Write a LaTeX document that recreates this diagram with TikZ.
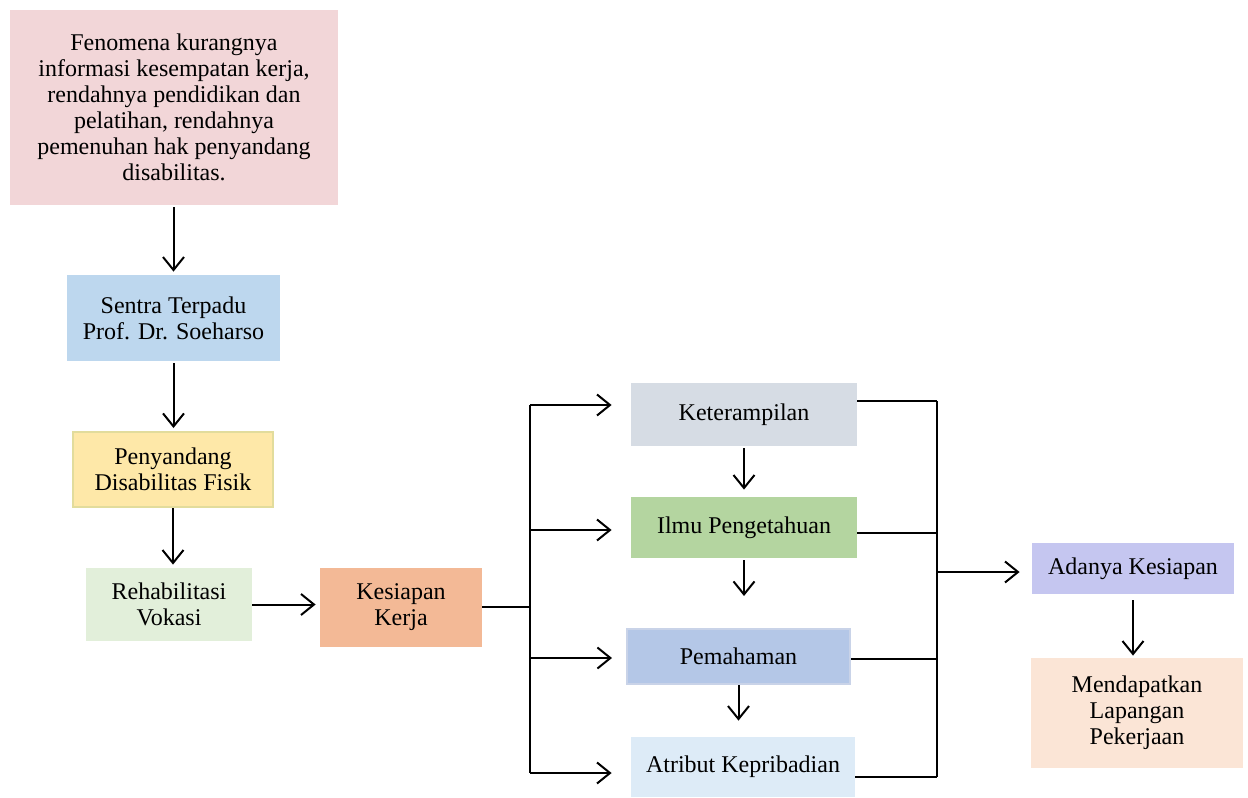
\documentclass[tikz,border=0pt]{standalone}
\usepackage{fontspec}
\setmainfont{Liberation Serif}
\usetikzlibrary{arrows.meta,positioning}

\definecolor{fenpink}{HTML}{F2D6D8}
\definecolor{sentrablue}{HTML}{BDD7EE}
\definecolor{penyyellow}{HTML}{FEE8A8}
\definecolor{penyborder}{HTML}{E2DC9C}
\definecolor{rehabgreen}{HTML}{E2EFDA}
\definecolor{kesorange}{HTML}{F3B996}
\definecolor{ketgray}{HTML}{D6DCE4}
\definecolor{ilmugreen}{HTML}{B4D5A0}
\definecolor{pemblue}{HTML}{B4C7E7}
\definecolor{pemborder}{HTML}{C9D3E8}
\definecolor{atrblue}{HTML}{DDEBF7}
\definecolor{adanyaviolet}{HTML}{C5C6F0}
\definecolor{mendpeach}{HTML}{FBE5D6}

\begin{document}
\begin{tikzpicture}[x=0.5pt,y=-0.5pt]
    \tikzstyle{box}=[rectangle,inner sep=2pt,align=center,font=\fontsize{12}{13}\selectfont]
    \tikzstyle{arr}=[line width=1pt,-{Straight Barb[length=6.5pt,width=10.5pt,line width=1pt]}]
    \tikzstyle{link}=[line width=1pt]
    \useasboundingbox (0,0) rectangle (1248,798);
    % left column
    \node[box,fill=fenpink,minimum width=164pt,minimum height=97.5pt] (fenomena) at (174,107.5)
      {Fenomena kurangnya\\informasi kesempatan kerja,\\rendahnya pendidikan dan\\pelatihan, rendahnya\\pemenuhan hak penyandang\\disabilitas.};
    \node[box,fill=sentrablue,minimum width=106.5pt,minimum height=43pt] (sentra) at (173.5,318)
      {Sentra Terpadu\\Prof. Dr. Soeharso};
    \node[box,fill=penyyellow,draw=penyborder,line width=1pt,minimum width=100pt,minimum height=37.5pt] (penyandang) at (173,469.5)
      {Penyandang\\Disabilitas Fisik};
    \node[box,fill=rehabgreen,minimum width=83pt,minimum height=36.5pt] (rehab) at (169,604.5)
      {Rehabilitasi\\Vokasi};
    \node[box,fill=kesorange,minimum width=81pt,minimum height=39.5pt] (kesiapan) at (401,607.5)
      {Kesiapan\\Kerja};
    % middle column
    \node[box,fill=ketgray,minimum width=113pt,minimum height=31.5pt] (keterampilan) at (744,414.5)
      {Keterampilan};
    \node[box,fill=ilmugreen,minimum width=113pt,minimum height=30.5pt] (ilmu) at (744,527.5)
      {Ilmu Pengetahuan};
    \node[box,fill=pemblue,draw=pemborder,line width=1pt,minimum width=111.5pt,minimum height=27.5pt] (pemahaman) at (738.5,656.5)
      {Pemahaman};
    \node[box,fill=atrblue,minimum width=112pt,minimum height=30pt] (atribut) at (743,767)
      {Atribut Kepribadian};
    % right column
    \node[box,fill=adanyaviolet,minimum width=101pt,minimum height=25.5pt] (adanya) at (1133,568.5)
      {Adanya Kesiapan};
    \node[box,fill=mendpeach,minimum width=106pt,minimum height=55pt] (mendapatkan) at (1137,713)
      {Mendapatkan\\Lapangan\\Pekerjaan};
    \coordinate (split) at (530,607);
    \coordinate (join) at (937,572);
    % arrows
    \draw[arr,shorten <=1pt,shorten >=1.5pt] (sentra.north |- fenomena.south) -- (sentra.north);
    \draw[arr,shorten <=1pt,shorten >=1.5pt] (sentra.south) -- (sentra.south |- penyandang.north);
    \draw[arr,shorten >=1.5pt] (penyandang.south) -- (penyandang.south |- rehab.north);
    \draw[arr,shorten >=2pt] (rehab.east) -- (rehab.east -| kesiapan.west);
    \draw[link] (kesiapan.east |- split) -- (split);
    \draw[link] (split |- 0,405) -- (split |- 0,773);
    \draw[arr,shorten >=9.5pt] (split |- 0,405) -- ([yshift=4.75pt]keterampilan.west);
    \draw[arr,shorten >=9.5pt] (split |- 0,530) -- ([yshift=-1.25pt]ilmu.west);
    \draw[arr,shorten >=7pt] (split |- 0,658) -- ([yshift=-0.75pt]pemahaman.west);
    \draw[arr,shorten >=9.5pt] (split |- 0,773) -- ([yshift=-3pt]atribut.west);
    \draw[arr,shorten <=1pt,shorten >=3.5pt] (keterampilan) -- (keterampilan |- ilmu.north);
    \draw[arr,shorten <=1pt,shorten >=16pt] (ilmu.south) -- (ilmu.south |- pemahaman.north);
    \draw[arr,shorten <=0pt,shorten >=8pt] (pemahaman.south) -- (pemahaman.south |- atribut.north);
    \draw[link] ([yshift=6.75pt]keterampilan.east) -- ([yshift=6.75pt]keterampilan.east -| join);
    \draw[link] ([yshift=-2.75pt]ilmu.east) -- ([yshift=-2.75pt]ilmu.east -| join);
    \draw[link] ([yshift=-1.25pt]pemahaman.east) -- ([yshift=-1.25pt]pemahaman.east -| join);
    \draw[link] ([yshift=-5pt]atribut.east) -- ([yshift=-5pt]atribut.east -| join);
    \draw[link] (join |- 0,401) -- (join |- 0,777);
    \draw[arr,shorten >=6pt] (join) -- (adanya.west |- join);
    \draw[arr,shorten <=3pt,shorten >=1pt] (adanya) -- (mendapatkan.north -| adanya);
\end{tikzpicture}
\end{document}
